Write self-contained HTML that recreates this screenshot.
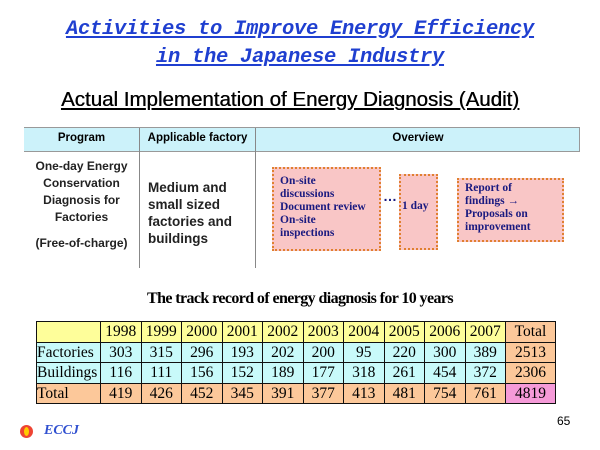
<!DOCTYPE html>
<html><head><meta charset="utf-8"><style>
body{margin:0;width:600px;height:450px;background:#fff;position:relative;overflow:hidden;font-family:"Liberation Sans",sans-serif}
.a{position:absolute}
.t{left:0;width:600px;text-align:center;color:#1f3fd0;font:italic bold 20.5px "Liberation Mono",monospace;text-decoration:underline;letter-spacing:-0.3px}
.box{position:absolute;background:#f9c6c6;border:2px dotted #e08030;box-sizing:border-box;font:bold 11.5px/13px "Liberation Serif",serif;color:#1a1a80;padding:4px 6px}
table{border-collapse:collapse;table-layout:fixed}
#rec td{border:1.5px solid #111;font:15.5px "Liberation Serif",serif;text-align:center;height:19.5px;padding:0;line-height:19.5px;overflow:hidden;white-space:nowrap}
</style></head><body>
<div class="a t" style="top:18px">Activities to Improve Energy Efficiency</div>
<div class="a t" style="top:46px">in the Japanese Industry</div>
<div class="a" style="top:88px;left:0;width:580px;text-align:center;font-size:20.5px;text-decoration:underline;color:#000;text-shadow:0.4px 0 0 #000">Actual Implementation of Energy Diagnosis (Audit)</div>

<div class="a" style="left:24px;top:127px;width:556px;height:136px;border-top:1px solid #999">
 <div class="a" style="left:0;top:0;width:556px;height:23px;background:#ccf2fa;border-bottom:1px solid #999"></div>
 <div class="a" style="left:115px;top:0;width:1px;height:140px;background:#888"></div>
 <div class="a" style="left:231px;top:0;width:1px;height:140px;background:#888"></div>
 <div class="a" style="left:555px;top:0;width:1px;height:24px;background:#999"></div>
 <div class="a" style="left:0;top:4px;width:115px;text-align:center;font-size:11.5px;font-weight:bold">Program</div>
 <div class="a" style="left:116px;top:4px;width:115px;text-align:center;font-size:11.5px;font-weight:bold">Applicable factory</div>
 <div class="a" style="left:232px;top:4px;width:324px;text-align:center;font-size:11.5px;font-weight:bold">Overview</div>
 <div class="a" style="left:0;top:30px;width:115px;text-align:center;font-size:12px;line-height:17px;font-weight:bold;color:#222">One-day Energy<br>Conservation<br>Diagnosis for<br>Factories<br><div style="margin-top:9px">(Free-of-charge)</div></div>
 <div class="a" style="left:124px;top:51px;font-size:13.5px;line-height:17px;font-weight:bold;color:#222">Medium and<br>small sized<br>factories and<br>buildings</div>
</div>
<div class="box" style="left:272px;top:167px;width:109px;height:84px;padding-top:6px">On-site<br>discussions<br>Document review<br>On-site<br>inspections</div>
<div class="a" style="left:383px;top:188px;font-size:14px;font-weight:bold;color:#1a1a80">…</div>
<div class="box" style="left:399px;top:174px;width:39px;height:76px;padding:24px 0 0 1px">1 day</div>
<div class="box" style="left:457px;top:178px;width:107px;height:64px;padding-top:2px">Report of<br>findings →<br>Proposals on<br>improvement</div>

<div class="a" style="top:290px;left:15px;width:570px;text-align:center;font:bold 16px 'Liberation Serif',serif;letter-spacing:-0.6px">The track record of energy diagnosis for 10 years</div>
<table id="rec" class="a" style="left:36px;top:321px;width:519px">
<colgroup><col style="width:64px"><col span="10" style="width:40.5px"><col style="width:50px"></colgroup>
<tbody id="tb"></tbody></table>

<div class="a" style="left:557px;top:414px;font-size:12px">65</div>
<div class="a" style="left:20px;top:425px;width:13px;height:13px;border-radius:50%;background:#e43"><div style="position:absolute;left:4px;top:2px;width:5px;height:9px;border-radius:50%;background:#fc0"></div></div>
<div class="a" style="left:44px;top:423px;font:italic bold 14px 'Liberation Serif',serif;color:#3050d0">ECCJ</div>
<script>
const years=["1998","1999","2000","2001","2002","2003","2004","2005","2006","2007"];
const factories=[303,315,296,193,202,200,95,220,300,389];
const buildings=[116,111,156,152,189,177,318,261,454,372];
const totals=[419,426,452,345,391,377,413,481,754,761];
const rowTotals=[2513,2306,4819];
const tb=document.getElementById('tb');
function row(label,vals,tot,bg,lbg,tbg,name){
 const tr=document.createElement('tr');
 
 
 const l=document.createElement('td');l.textContent=label;l.style.background=lbg;l.style.textAlign='left';
 
 
 tr.appendChild(l);
 vals.forEach(v=>{const c=document.createElement('td');c.textContent=v;c.style.background=bg;
  
  
  tr.appendChild(c);});
 const t=document.createElement('td');t.textContent=tot;t.style.background=tbg;
 
 
 tr.appendChild(t);tb.appendChild(tr);
}
row('',years,'Total','#fefe9a','#fefe9a','#fcc89a','year-row');
row('Factories',factories,rowTotals[0],'#c8fafa','#c8fafa','#fcc89a','factories-row');
row('Buildings',buildings,rowTotals[1],'#c8fafa','#c8fafa','#fcc89a','buildings-row');
row('Total',totals,rowTotals[2],'#fcc89a','#fcc89a','#f59ad8','total-row');
</script>
</body></html>
